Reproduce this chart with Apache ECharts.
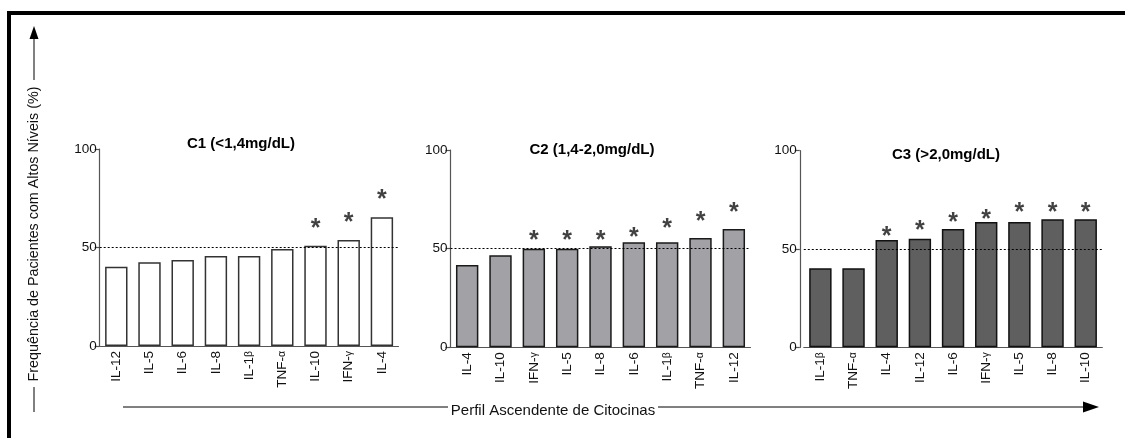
<!DOCTYPE html>
<html>
<head>
<meta charset="utf-8">
<script src="https://cdn.jsdelivr.net/npm/echarts@6/dist/echarts.min.js"></script>
<style>
html,body{margin:0;padding:0;background:#fff;}
#chart{width:1125px;height:438px;}
</style>
</head>
<body>
<div id="chart"></div>
<script>
// ---- data ----
const c1Cats = ['IL-12','IL-5','IL-6','IL-8','IL-1β','TNF-α','IL-10','IFN-γ','IL-4'];
const c1Vals = [40.2, 42.5, 43.6, 45.7, 45.7, 49.2, 50.9, 53.8, 65.3];
const c1Stars = [null, null, null, null, null, null, 62.3, 65.3, 76.6];

const c2Cats = ['IL-4','IL-10','IFN-γ','IL-5','IL-8','IL-6','IL-1β','TNF-α','IL-12'];
const c2Vals = [41.7, 46.6, 50.0, 50.0, 51.2, 53.2, 53.2, 55.4, 60.0];
const c2Stars = [null, null, 56.4, 56.4, 56.4, 58.1, 62.5, 66.2, 70.7];

const c3Cats = ['IL-1β','TNF-α','IL-4','IL-12','IL-6','IFN-γ','IL-5','IL-8','IL-10'];
const c3Vals = [40.2, 40.2, 54.6, 55.2, 60.2, 63.7, 63.7, 65.1, 65.1];
const c3Stars = [null, null, 58.8, 61.9, 66.1, 67.7, 71.2, 71.2, 71.2];

const titles = ['C1 (<1,4mg/dL)', 'C2 (1,4-2,0mg/dL)', 'C3 (>2,0mg/dL)'];
const yMin = 0, yMax = 100, yStep = 50;
const threshold = 50;
const yName = 'Frequência de Pacientes com Altos Níveis (%)';
const xName = 'Perfil Ascendente de Citocinas';

// ---- chart ----
const FONT = '"Liberation Sans", Arial, Helvetica, sans-serif';
const chart = echarts.init(document.getElementById('chart'), null, {renderer: 'canvas'});

const panels = [
  {cats: c1Cats, vals: c1Vals, stars: c1Stars, fill: '#ffffff', border: '#333333',
   grid: {left: 99.7, top: 149, width: 298.8, height: 197}, yOff: 0,
   title: {x: 236, y: 131}},
  {cats: c2Cats, vals: c2Vals, stars: c2Stars, fill: '#a2a2a6', border: '#1a1a1a',
   grid: {left: 450.5, top: 150, width: 300, height: 197.3}, yOff: 0,
   title: {x: 587, y: 137}},
  {cats: c3Cats, vals: c3Vals, stars: c3Stars, fill: '#5f5f5f', border: '#111111',
   grid: {left: 803.8, top: 150.7, width: 298.5, height: 196.6}, yOff: 4,
   title: {x: 941, y: 142}}
];

function greek(v) {
  return v.replace(/([αβγ])/g, '{g|$1}');
}

const option = {
  backgroundColor: '#ffffff',
  animation: false,
  textStyle: {fontFamily: FONT},
  title: panels.map((p, i) => ({
    text: titles[i], left: p.title.x, top: p.title.y, textAlign: 'center',
    textStyle: {fontFamily: FONT, fontSize: 15, fontWeight: 'bold', color: '#000'}
  })),
  grid: panels.map(p => Object.assign({containLabel: false}, p.grid)),
  xAxis: panels.map((p, i) => ({
    type: 'category', gridIndex: i, data: p.cats,
    axisLine: {show: true, lineStyle: {color: '#555', width: 1.2}},
    axisTick: {show: false},
    axisLabel: {
      interval: 0, rotate: 90, fontSize: 13.5, color: '#111', margin: 5, fontFamily: FONT,
      formatter: greek,
      rich: {g: {fontSize: 10.5, color: '#111', fontFamily: FONT}}
    },
    splitLine: {show: false}
  })),
  yAxis: panels.map((p, i) => ({
    type: 'value', gridIndex: i, min: yMin, max: yMax, interval: yStep, offset: p.yOff,
    axisLine: {show: true, lineStyle: {color: '#555', width: 1.2}},
    axisTick: {show: true, length: 5, lineStyle: {color: '#555', width: 1.2}},
    axisLabel: {fontSize: 13.5, color: '#111', margin: 3, fontFamily: FONT},
    splitLine: {show: false}
  })),
  series: [].concat(
    panels.map((p, i) => ({
      type: 'bar', xAxisIndex: i, yAxisIndex: i, data: p.vals, barWidth: 22.4,
      itemStyle: {color: p.fill, borderColor: p.border, borderWidth: 1.5},
      markLine: {
        silent: true, symbol: ['none', 'none'], label: {show: false},
        lineStyle: {type: [2, 2], color: '#000', width: 1},
        data: [{yAxis: threshold}]
      }
    })),
    panels.map((p, i) => ({
      type: 'scatter', xAxisIndex: i, yAxisIndex: i, data: p.stars,
      symbolSize: 1, itemStyle: {color: 'rgba(0,0,0,0)'}, silent: true,
      label: {show: true, position: 'inside', formatter: '*', fontSize: 25, fontWeight: 'bold',
        color: '#111', fontFamily: FONT, offset: [0, 5.5]}
    }))
  ),
  graphic: [
    {type: 'rect', shape: {x: 7, y: 11, width: 1118, height: 4}, style: {fill: '#000'}},
    {type: 'rect', shape: {x: 7, y: 11, width: 4, height: 427}, style: {fill: '#000'}},
    // vertical axis caption with arrow
    {type: 'line', shape: {x1: 34, y1: 412, x2: 34, y2: 387}, style: {stroke: '#000', lineWidth: 1}},
    {type: 'line', shape: {x1: 34, y1: 80, x2: 34, y2: 38}, style: {stroke: '#000', lineWidth: 1}},
    {type: 'polygon', shape: {points: [[34, 26], [29.5, 39], [38.5, 39]]}, style: {fill: '#000'}},
    {type: 'text', x: 34.5, y: 234, rotation: Math.PI / 2,
     style: {text: yName, fontSize: 14.3, fontFamily: FONT, fill: '#111', align: 'center', verticalAlign: 'middle'}},
    // horizontal axis caption with arrow
    {type: 'line', shape: {x1: 123, y1: 407, x2: 448, y2: 407}, style: {stroke: '#000', lineWidth: 1}},
    {type: 'line', shape: {x1: 658, y1: 407, x2: 1086, y2: 407}, style: {stroke: '#000', lineWidth: 1}},
    {type: 'polygon', shape: {points: [[1099, 407], [1083, 401.5], [1083, 412.5]]}, style: {fill: '#000'}},
    {type: 'text', x: 553, y: 411,
     style: {text: xName, fontSize: 15, fontFamily: FONT, fill: '#111', align: 'center', verticalAlign: 'middle'}}
  ]
};
chart.setOption(option);
</script>
</body>
</html>
